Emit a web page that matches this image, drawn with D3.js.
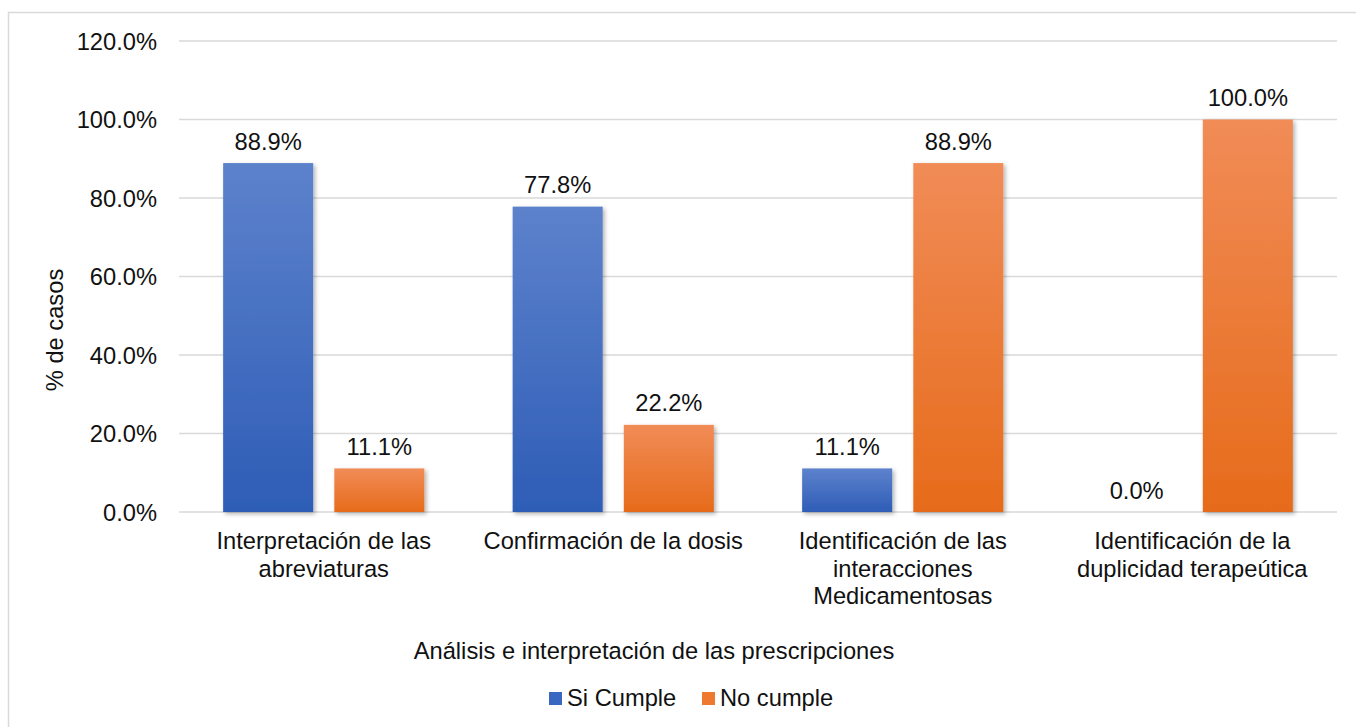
<!DOCTYPE html>
<html>
<head>
<meta charset="utf-8">
<script src="https://cdn.jsdelivr.net/npm/d3@7"></script>
<style>
  html, body { margin: 0; padding: 0; background: #fff; }
  svg { display: block; font-family: "Liberation Sans", Arial, sans-serif; }
</style>
</head>
<body>
<script>
// chart data
const categories = [
  ["Interpretación de las", "abreviaturas"],
  ["Confirmación de la dosis"],
  ["Identificación de las", "interacciones", "Medicamentosas"],
  ["Identificación de la", "duplicidad terapeútica"]
];
const seriesNames = ["Si Cumple", "No cumple"];
const siCumple = [88.9, 77.8, 11.1, 0.0];
const noCumple = [11.1, 22.2, 88.9, 100.0];
const yTicks = [0, 20, 40, 60, 80, 100, 120];
const xTitle = "Análisis e interpretación de las prescripciones";
const yTitle = "% de casos";

const w = 1356, h = 727;
const fs = 23.7;
const plot = { left: 179, right: 1337, top: 41, bottom: 512 };

const svg = d3.select("body").append("svg")
  .attr("width", w)
  .attr("height", h);

const defs = svg.append("defs");
function grad(id, top, bottom) {
  const g = defs.append("linearGradient").attr("id", id)
    .attr("x1", 0).attr("y1", 0).attr("x2", 0).attr("y2", 1);
  g.append("stop").attr("offset", "0%").attr("stop-color", top);
  g.append("stop").attr("offset", "100%").attr("stop-color", bottom);
}
grad("gBlue", "#5d82cc", "#2e5db6");
grad("gOrange", "#f18c57", "#e66b1a");
const shadow = defs.append("filter").attr("id", "shadow")
  .attr("x", "-20%").attr("y", "-20%").attr("width", "140%").attr("height", "140%");
shadow.append("feDropShadow")
  .attr("dx", 2).attr("dy", 2).attr("stdDeviation", 2)
  .attr("flood-color", "#000").attr("flood-opacity", 0.3);

// chart border (runs off right and bottom)
svg.append("rect")
  .attr("x", 8.5).attr("y", 12.5)
  .attr("width", w).attr("height", h)
  .attr("fill", "none")
  .attr("stroke", "#d9d9d9")
  .attr("stroke-width", 1.5);

const x0 = d3.scaleBand()
  .domain(d3.range(categories.length))
  .range([plot.left, plot.right])
  .paddingInner(0.305).paddingOuter(0.1525);

const x1 = d3.scaleBand()
  .domain([0, 1])
  .range([0, x0.bandwidth()])
  .paddingInner(0.19);

const y = d3.scaleLinear()
  .domain([0, 120])
  .range([plot.bottom, plot.top]);

// grid
const grid = svg.append("g");
grid.selectAll("line")
  .data(yTicks)
  .enter()
  .append("line")
  .attr("x1", plot.left).attr("x2", plot.right)
  .attr("y1", d => y(d)).attr("y2", d => y(d))
  .attr("stroke", "#d9d9d9")
  .attr("stroke-width", 1.5);

// y axis labels
const yAxis = svg.append("g")
  .attr("transform", "translate(" + (plot.left - 22) + ",0)")
  .call(d3.axisLeft(y).tickValues(yTicks).tickSize(0).tickFormat(d => d.toFixed(1) + "%"));
yAxis.select(".domain").remove();
yAxis.selectAll("text")
  .attr("font-size", fs)
  .attr("font-family", "Liberation Sans, Arial, sans-serif")
  .attr("fill", "#111")
  .attr("x", 0)
  .attr("dy", "0.35em");

// bars
const rows = categories.map((c, i) => [siCumple[i], noCumple[i]]);
const fills = ["url(#gBlue)", "url(#gOrange)"];
const groups = svg.selectAll("g.cat")
  .data(rows)
  .enter()
  .append("g")
  .attr("class", "cat")
  .attr("transform", (d, i) => "translate(" + x0(i) + ",0)");

groups.selectAll("rect")
  .data(d => d)
  .enter()
  .append("rect")
  .attr("x", (d, j) => x1(j))
  .attr("width", x1.bandwidth())
  .attr("y", d => y(d))
  .attr("height", d => y(0) - y(d))
  .attr("fill", (d, j) => fills[j])
  .attr("filter", d => d > 0 ? "url(#shadow)" : null);

groups.selectAll("text")
  .data(d => d)
  .enter()
  .append("text")
  .attr("x", (d, j) => x1(j) + x1.bandwidth() / 2)
  .attr("y", d => y(d) - 13.5)
  .attr("text-anchor", "middle")
  .attr("font-size", fs)
  .attr("fill", "#111")
  .text(d => d.toFixed(1) + "%");

// category labels
const catLabels = svg.append("g");
categories.forEach((lines, i) => {
  const t = catLabels.append("text")
    .attr("x", x0(i) + x0.bandwidth() / 2)
    .attr("y", 549)
    .attr("text-anchor", "middle")
    .attr("font-size", fs)
    .attr("fill", "#111");
  lines.forEach((ln, k) => {
    t.append("tspan")
      .attr("x", x0(i) + x0.bandwidth() / 2)
      .attr("dy", k === 0 ? 0 : 27.5)
      .text(ln);
  });
});

// axis titles
svg.append("text")
  .attr("x", 654)
  .attr("y", 659)
  .attr("text-anchor", "middle")
  .attr("font-size", fs)
  .attr("fill", "#111")
  .text(xTitle);

svg.append("text")
  .attr("transform", "translate(63,330) rotate(-90)")
  .attr("text-anchor", "middle")
  .attr("font-size", fs)
  .attr("fill", "#111")
  .text(yTitle);

// legend
const legendColors = ["#3a68c1", "#ee7a30"];
const legendX = [549, 702];
const legend = svg.append("g");
seriesNames.forEach((name, i) => {
  legend.append("rect")
    .attr("x", legendX[i]).attr("y", 692)
    .attr("width", 13).attr("height", 13)
    .attr("fill", legendColors[i]);
  legend.append("text")
    .attr("x", legendX[i] + 18).attr("y", 706)
    .attr("font-size", fs)
    .attr("fill", "#111")
    .text(name);
});
</script>
</body>
</html>
